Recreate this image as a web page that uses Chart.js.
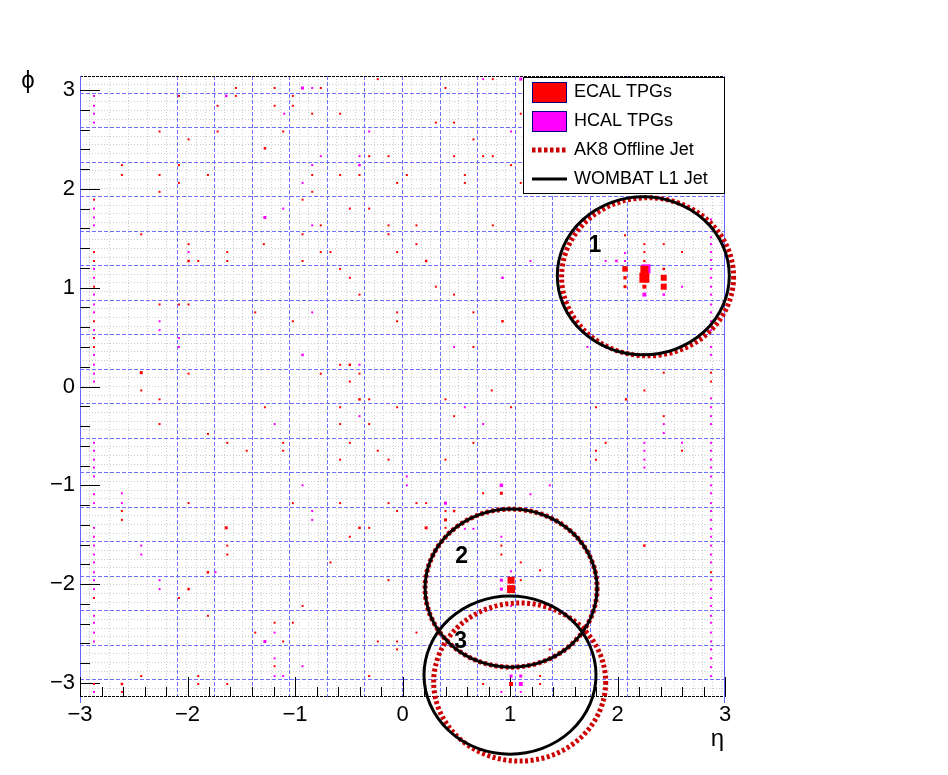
<!DOCTYPE html>
<html>
<head>
<meta charset="utf-8">
<script src="https://cdn.jsdelivr.net/npm/chart.js@4.4.0/dist/chart.umd.min.js"></script>
<style>
html, body { margin: 0; padding: 0; background: #fff; }
</style>
</head>
<body>
<canvas id="etaPhiChart" width="948" height="775"></canvas>
<script>
// tick labels
const etaTicks = [-3, -2, -1, 0, 1, 2, 3];
const phiTicks = [-3, -2, -1, 0, 1, 2, 3];

// jets (eta, phi), cone radius
const jetR = 0.8;
const ak8Eta = [2.28, 1.01, 1.09];
const ak8Phi = [1.11, -2.04, -2.99];
const l1Eta = [2.24, 1.01, 1.00];
const l1Phi = [1.12, -2.04, -2.92];
const jetLabels = ['1', '2', '3'];
const labelEta = [1.79, 0.55, 0.54];
const labelPhi = [1.43, -1.72, -2.58];

// ECAL TPGs near the jets: [eta, phi, Et]
const ecalJetHits = [
  [2.07, 1.19, 5.5], [2.25, 1.18, 8], [2.25, 1.10, 10], [2.25, 1.01, 4],
  [2.43, 1.10, 6], [2.43, 1.01, 6], [2.07, 1.10, 3.3], [2.07, 1.01, 3],
  [2.25, 1.27, 2.3], [2.43, 1.19, 2.5], [2.25, 1.44, 2], [2.43, 1.44, 2],
  [2.60, 1.36, 2], [2.07, 1.53, 2], [2.25, 1.36, 2],
  [1.01, -1.96, 7], [1.01, -2.05, 8], [1.10, -1.96, 2], [1.01, -2.12, 2],
  [0.92, -1.08, 3], [0.48, -1.26, 2.5], [0.40, -1.35, 3], [0.22, -1.43, 3],
  [0.40, -1.43, 2], [0.40, -1.26, 2], [0.22, -1.18, 2], [0.75, -1.08, 2],
  [0.92, -1.61, 2], [0.92, -1.70, 2],
  [1.01, -3.01, 4], [1.28, -3.01, 2], [1.28, -2.93, 2], [0.75, -3.01, 2]
];

// small ECAL deposits: [eta, phi] or [eta, phi, Et]
const ecalNoise = [
  [-0.23, 3.11], [-1.55, 3.02], [-1.19, 3.02], [-0.76, 3.02], [-2.08, 2.94], [-1.55, 2.94],
  [-1.02, 2.94], [-1.72, 2.84], [-1.19, 2.84], [-1.02, 2.84], [-0.84, 2.76], [-0.58, 2.76],
  [-2.26, 2.58], [-1.72, 2.58], [-1.11, 2.58], [-1.99, 2.50], [-1.28, 2.41, 2.5], [-0.31, 2.33],
  [-0.13, 2.33], [-2.61, 2.24], [-2.08, 2.24], [-2.61, 2.14], [-2.26, 2.14], [-1.81, 2.14],
  [-0.84, 2.14], [-0.58, 2.14], [-0.40, 2.14], [-2.08, 2.06], [-0.05, 2.06], [-2.26, 1.97],
  [-0.84, 1.97], [-2.87, 1.89], [-0.93, 1.89], [-0.49, 1.80], [-0.31, 1.80], [-0.76, 1.63],
  [-0.13, 1.63], [-2.43, 1.54], [-0.93, 1.54], [-0.13, 1.54], [-1.99, 1.44], [-1.29, 1.44],
  [-2.87, 1.36], [-1.63, 1.36], [-0.76, 1.36], [-0.67, 1.36], [-0.05, 1.36], [-2.87, 1.27],
  [-1.99, 1.27, 2.5], [-1.90, 1.27], [-1.63, 1.27], [-0.93, 1.27], [-0.58, 1.19], [-0.49, 1.10],
  [-2.87, 1.01], [-0.40, 0.93], [-2.26, 0.83], [-2.08, 0.83], [-1.99, 0.83], [-1.37, 0.75],
  [-0.05, 0.75], [-2.87, 0.66], [-1.02, 0.66], [-0.05, 0.66], [-2.87, 0.49], [-2.87, 0.40],
  [-0.58, 0.22], [-0.49, 0.22, 2.5], [-2.43, 0.14, 3], [-1.99, 0.13], [-0.76, 0.13], [-0.40, 0.13],
  [-0.49, 0.05],
  [0.40, 3.02], [0.84, 3.11], [1.10, 2.76], [0.31, 2.67], [0.48, 2.67], [0.66, 2.50],
  [0.48, 2.33], [0.75, 2.33], [0.84, 2.33], [1.01, 2.24], [0.04, 2.14], [0.58, 2.14],
  [0.58, 2.06], [1.10, 2.06], [0.13, 1.63], [0.84, 1.63], [0.13, 1.44], [0.22, 1.27, 2.5],
  [0.31, 1.01], [0.48, 0.93], [0.66, 0.75], [0.93, 0.66, 2.5], [0.66, 0.40], [2.43, 0.14],
  [2.87, 0.14], [2.87, 0.05],
  [-2.43, -0.04], [-2.26, -0.13], [-0.40, -0.13, 2.5], [-0.31, -0.13], [-1.28, -0.21], [-0.58, -0.21],
  [-0.05, -0.21], [-2.26, -0.38], [-0.58, -0.38], [-0.31, -0.38], [-1.81, -0.48], [-1.63, -0.57],
  [-1.11, -0.57], [-0.49, -0.57], [-1.45, -0.65], [-1.11, -0.65], [-0.23, -0.65], [-0.58, -0.74],
  [-0.13, -0.74], [-1.99, -1.18], [-1.02, -1.18], [-0.58, -1.18], [-0.13, -1.18], [-2.61, -1.26],
  [-0.05, -1.26], [-2.61, -1.35], [-1.64, -1.43, 3], [-0.40, -1.43, 2.5], [-0.31, -1.43], [-0.49, -1.52],
  [-1.63, -1.61], [-1.63, -1.70], [-0.67, -1.78], [-1.81, -1.88, 2.5], [-0.13, -1.96], [-1.99, -2.05, 2.5],
  [-2.08, -2.14], [-0.93, -2.22], [-1.81, -2.32], [-1.19, -2.39], [-1.02, -2.39], [-1.37, -2.49],
  [-1.11, -2.58], [-0.23, -2.58], [-0.05, -2.58], [-0.05, -2.66], [-1.19, -2.83], [-2.43, -2.93],
  [-1.90, -2.93], [-0.31, -2.93], [-2.61, -3.01, 2.5], [-1.90, -3.01], [-1.63, -3.01], [-2.61, -3.09],
  [-2.87, -2.14], [-2.87, -3.01],
  [0.83, -0.04], [2.25, -0.04], [0.40, -0.13], [2.08, -0.13, 2.5], [1.80, -0.21], [1.01, -0.21],
  [0.48, -0.30], [2.43, -0.30], [0.66, -0.57], [1.89, -0.57], [1.80, -0.65], [2.60, -0.65],
  [0.40, -0.74], [1.80, -0.74], [0.13, -1.18], [2.25, -1.61, 2.5], [1.28, -1.86], [1.80, -1.86],
  [1.10, -1.78], [2.87, -1.88], [0.13, -2.49], [1.37, -2.66]
];

// HCAL TPGs near the jets: [eta, phi, Et]
const hcalJetHits = [
  [2.265, 1.19, 9], [2.25, 0.93, 4], [2.43, 0.93, 2.5], [2.60, 1.01, 2], [1.99, 1.27, 2.5],
  [2.07, 1.35, 2], [2.07, 1.27, 2], [1.89, 1.27, 2],
  [0.92, -1.96, 3], [0.92, -2.05, 3], [1.01, -1.87, 2], [1.01, -2.22, 2], [0.92, -1.00, 3.5],
  [1.01, -2.93, 3], [1.10, -2.93, 3], [1.10, -3.01, 4], [0.92, -3.09, 2], [1.10, -3.09, 2]
];

// small HCAL deposits
const hcalNoise = [
  [-0.93, 3.02, 3], [-0.84, 3.02], [-1.64, 2.94, 2.5], [-1.10, 2.76], [-0.31, 2.58], [-0.76, 2.33],
  [-0.40, 2.33], [-0.84, 2.24], [-0.40, 2.24, 2.5], [-0.93, 2.06], [-1.11, 1.80], [-1.28, 1.71, 3],
  [-0.84, 1.63], [-1.99, 1.36], [-0.84, 0.75], [-2.26, 0.66], [-2.26, 0.57], [-2.08, 0.49],
  [-2.08, 0.40], [-0.93, 0.32, 2.5], [-0.40, 0.22],
  [0.75, 3.11], [1.10, 3.11, 3], [1.01, 2.58], [0.93, 1.10, 2.5], [1.19, 1.27], [1.72, 0.40], [0.48, 0.40],
  [-0.40, -0.30], [-1.19, -0.38], [-0.93, -1.00], [-2.61, -1.08], [-2.61, -1.18], [-0.84, -1.26],
  [-0.84, -1.35], [-2.43, -1.61], [-2.43, -1.70], [-1.74, -1.88], [-2.26, -1.96], [-2.26, -2.05],
  [-1.19, -2.49], [-1.28, -2.58, 3], [-1.19, -2.75], [-0.93, -2.83], [-1.19, -2.93], [-1.11, -2.93],
  [0.58, -0.21], [0.75, -0.38], [2.43, -0.38], [2.43, -0.47], [2.25, -0.57], [2.60, -0.57],
  [2.25, -0.65], [2.25, -0.74], [2.25, -0.82], [0.04, -0.91], [0.04, -1.00], [1.37, -1.00],
  [1.19, -1.09], [0.40, -1.18, 3], [0.58, -1.44], [0.66, -1.44], [0.40, -1.52], [0.92, -1.52]
];

// forward HCAL columns
const hfMinusEta = -2.87;
const hfMinusPhi = [2.94, 2.84, 2.76, 2.67, 1.80, 1.71, 1.63, 1.19, 1.10, 0.93, 0.83, 0.75, 0.57,
  0.32, 0.22, 0.13, 0.05, -0.57, -0.65, -0.74, -0.82, -0.91, -1.09, -1.18, -1.43, -1.52, -1.61,
  -1.70, -1.78, -1.88, -1.96, -2.05, -2.32, -2.39, -2.49, -2.58, -3.09];
const hfPlusEta = 2.87;
const hfPlusPhi = [1.69, 1.51, 1.44, 1.36, 1.28, 1.19, 1.10, 1.01, 0.93, 0.83, 0.75, 0.66, 0.57,
  0.40, 0.32, -0.12, -0.21, -0.30, -0.38, -0.57, -0.65, -0.74, -0.82, -0.91, -1.00, -1.08, -1.18,
  -1.26, -1.35, -1.44, -1.52, -1.61, -1.70, -1.78, -1.96, -2.05, -2.14, -2.22, -2.32, -2.39,
  -2.49, -2.58, -2.66, -2.75, -2.84, -2.93];

const noiseEt = 2;
const towerStep = 0.0873;

const toPoints = (hits) => hits.map(h => ({ x: h[0], y: h[1], et: h.length > 2 ? h[2] : noiseEt }));
const ecalPoints = toPoints(ecalJetHits.concat(ecalNoise));
const hcalPoints = toPoints(hcalJetHits.concat(hcalNoise))
  .concat(hfMinusPhi.map(p => ({ x: hfMinusEta, y: p, et: noiseEt })))
  .concat(hfPlusPhi.map(p => ({ x: hfPlusEta, y: p, et: noiseEt })));

const boxRadius = (c) => c.raw ? c.raw.et / (2 * Math.SQRT1_2) : 1;
const fmt = (v) => (v < 0 ? '\u2212' + Math.abs(v) : String(v));

// grid positions (tower boundaries)
const fineEta = [-2.91, -2.73, -2.55, -2.37, -2.20];
for (let k = -23; k <= 34; k++) fineEta.push(k * towerStep);
const blueEta = [];
for (let k = -6; k <= 6; k++) blueEta.push(k * 4 * towerStep);
const finePhi = [];
for (let k = -35; k <= 35; k++) finePhi.push(k * towerStep);
const bluePhi = [];
for (let k = -9; k <= 8; k++) bluePhi.push((2 * k + 1) * 2 * towerStep);

function gridAxis(axisDir, values, color, dash) {
  return {
    type: 'linear',
    position: axisDir === 'x' ? 'bottom' : 'left',
    min: axisDir === 'x' ? -3 : -Math.PI,
    max: axisDir === 'x' ? 3 : Math.PI,
    afterBuildTicks: (axis) => { axis.ticks = values.map(v => ({ value: v })); },
    afterFit: (axis) => { if (axisDir === 'x') axis.height = 0; else axis.width = 0; },
    ticks: { display: false },
    grid: { color: color, lineWidth: 1, drawTicks: false },
    border: { display: false, dash: dash }
  };
}

const rootDecor = {
  id: 'rootDecor',
  beforeDatasetsDraw(chart) {
    const { ctx, chartArea: a, scales: { x, y } } = chart;
    ctx.save();
    ctx.lineWidth = 1;
    ctx.strokeStyle = '#000';
    ctx.setLineDash([3, 1]);
    ctx.beginPath();
    ctx.moveTo(a.left, a.top + 0.5); ctx.lineTo(a.right, a.top + 0.5);
    ctx.moveTo(a.left, a.bottom - 0.5); ctx.lineTo(a.right, a.bottom - 0.5);
    ctx.stroke();
    ctx.setLineDash([]);
    ctx.strokeStyle = '#6464ff';
    ctx.beginPath();
    ctx.moveTo(a.left + 0.5, a.top); ctx.lineTo(a.left + 0.5, a.bottom + 6);
    ctx.moveTo(a.right - 0.5, a.top); ctx.lineTo(a.right - 0.5, a.bottom + 6);
    ctx.stroke();
    // ROOT style tick marks, inside the frame
    ctx.strokeStyle = '#000';
    ctx.beginPath();
    for (let i = -15; i <= 15; i++) {
      const len = i % 5 === 0 ? 20 : 10;
      const px = Math.round(x.getPixelForValue(i / 5)) + 0.5;
      ctx.moveTo(px, a.bottom); ctx.lineTo(px, a.bottom - len);
      const py = Math.round(y.getPixelForValue(i / 5)) + 0.5;
      ctx.moveTo(a.left, py); ctx.lineTo(a.left + len, py);
    }
    ctx.stroke();
    ctx.restore();
  },
  afterDatasetsDraw(chart) {
    const { ctx, chartArea: a, scales: { x, y } } = chart;
    const cone = (eta, phi) => {
      const cx = x.getPixelForValue(eta), cy = y.getPixelForValue(phi);
      const rx = x.getPixelForValue(eta + jetR) - cx;
      const ry = cy - y.getPixelForValue(phi + jetR);
      ctx.beginPath();
      ctx.ellipse(cx, cy, rx, ry, 0, 0, 2 * Math.PI);
      ctx.stroke();
    };
    ctx.save();
    // AK8 offline jets
    ctx.strokeStyle = '#cc0000';
    ctx.lineWidth = 5;
    ctx.setLineDash([3, 2.5]);
    ak8Eta.forEach((e, i) => cone(e, ak8Phi[i]));
    // WOMBAT L1 jets
    ctx.strokeStyle = '#000';
    ctx.lineWidth = 3;
    ctx.setLineDash([]);
    l1Eta.forEach((e, i) => cone(e, l1Phi[i]));

    // jet numbers
    ctx.fillStyle = '#000';
    ctx.font = 'bold 23px "Liberation Sans"';
    ctx.textAlign = 'center';
    ctx.textBaseline = 'middle';
    jetLabels.forEach((t, i) => ctx.fillText(t, x.getPixelForValue(labelEta[i]), y.getPixelForValue(labelPhi[i])));

    // legend box
    const lx = a.right - 202, ly = a.top + 1;
    ctx.fillStyle = '#fff';
    ctx.fillRect(lx, ly, 202, 116);
    ctx.lineWidth = 1;
    ctx.strokeStyle = '#000';
    ctx.strokeRect(lx + 0.5, ly + 0.5, 201, 116);
    ctx.fillStyle = '#ff0000';
    ctx.fillRect(lx + 9, ly + 5, 34, 20);
    ctx.strokeStyle = '#000080';
    ctx.strokeRect(lx + 9.5, ly + 5.5, 34, 20);
    ctx.fillStyle = '#ff00ff';
    ctx.fillRect(lx + 9, ly + 34, 34, 20);
    ctx.strokeRect(lx + 9.5, ly + 34.5, 34, 20);
    ctx.strokeStyle = '#cc0000';
    ctx.lineWidth = 5;
    ctx.setLineDash([3.5, 2.5]);
    ctx.beginPath(); ctx.moveTo(lx + 9, ly + 73); ctx.lineTo(lx + 44, ly + 73); ctx.stroke();
    ctx.setLineDash([]);
    ctx.strokeStyle = '#000';
    ctx.lineWidth = 3;
    ctx.beginPath(); ctx.moveTo(lx + 9, ly + 102); ctx.lineTo(lx + 44, ly + 102); ctx.stroke();
    ctx.fillStyle = '#000';
    ctx.font = '18px "Liberation Sans"';
    ctx.textAlign = 'left';
    ctx.fillText('ECAL TPGs', lx + 51, ly + 15);
    ctx.fillText('HCAL TPGs', lx + 51, ly + 44);
    ctx.fillText('AK8 Offline Jet', lx + 51, ly + 73);
    ctx.fillText('WOMBAT L1 Jet', lx + 51, ly + 102);

    // axis titles
    ctx.font = '24px "Liberation Sans"';
    ctx.textAlign = 'center';
    ctx.fillText('\u03d5', a.left - 52, a.top + 5);
    ctx.textAlign = 'right';
    ctx.fillText('\u03b7', a.right - 1, a.bottom + 42);
    ctx.restore();
  }
};

new Chart(document.getElementById('etaPhiChart'), {
  type: 'scatter',
  data: {
    datasets: [
      {
        label: 'ECAL TPGs',
        data: ecalPoints,
        backgroundColor: '#ff0000',
        pointStyle: 'rect',
        pointRadius: boxRadius,
        pointHoverRadius: boxRadius,
        borderWidth: 0
      },
      {
        label: 'HCAL TPGs',
        data: hcalPoints,
        backgroundColor: '#ff00ff',
        pointStyle: 'rect',
        pointRadius: boxRadius,
        pointHoverRadius: boxRadius,
        borderWidth: 0
      }
    ]
  },
  options: {
    responsive: false,
    animation: false,
    events: [],
    layout: { padding: { top: 76, right: 223, left: 0, bottom: 0 } },
    plugins: { legend: { display: false }, tooltip: { enabled: false } },
    scales: {
      x: {
        type: 'linear',
        position: 'bottom',
        min: -3,
        max: 3,
        afterBuildTicks: (axis) => { axis.ticks = etaTicks.map(v => ({ value: v })); },
        afterFit: (axis) => { axis.height = 78; },
        ticks: { color: '#000', font: { family: 'Liberation Sans', size: 22 }, padding: 5, maxRotation: 0, callback: fmt },
        grid: { display: false, drawTicks: false },
        border: { display: false }
      },
      y: {
        type: 'linear',
        position: 'left',
        min: -Math.PI,
        max: Math.PI,
        afterBuildTicks: (axis) => { axis.ticks = phiTicks.map(v => ({ value: v })); },
        afterFit: (axis) => { axis.width = 80; },
        ticks: { color: '#000', font: { family: 'Liberation Sans', size: 22 }, padding: 5, callback: fmt },
        grid: { display: false, drawTicks: false },
        border: { display: false }
      },
      xFine: gridAxis('x', fineEta, '#cccccc', [1, 2]),
      yFine: gridAxis('y', finePhi, '#cccccc', [1, 2]),
      xBlue: gridAxis('x', blueEta, '#7070ff', [4, 2]),
      yBlue: gridAxis('y', bluePhi, '#7070ff', [4, 2])
    }
  },
  plugins: [rootDecor]
});
</script>
</body>
</html>
